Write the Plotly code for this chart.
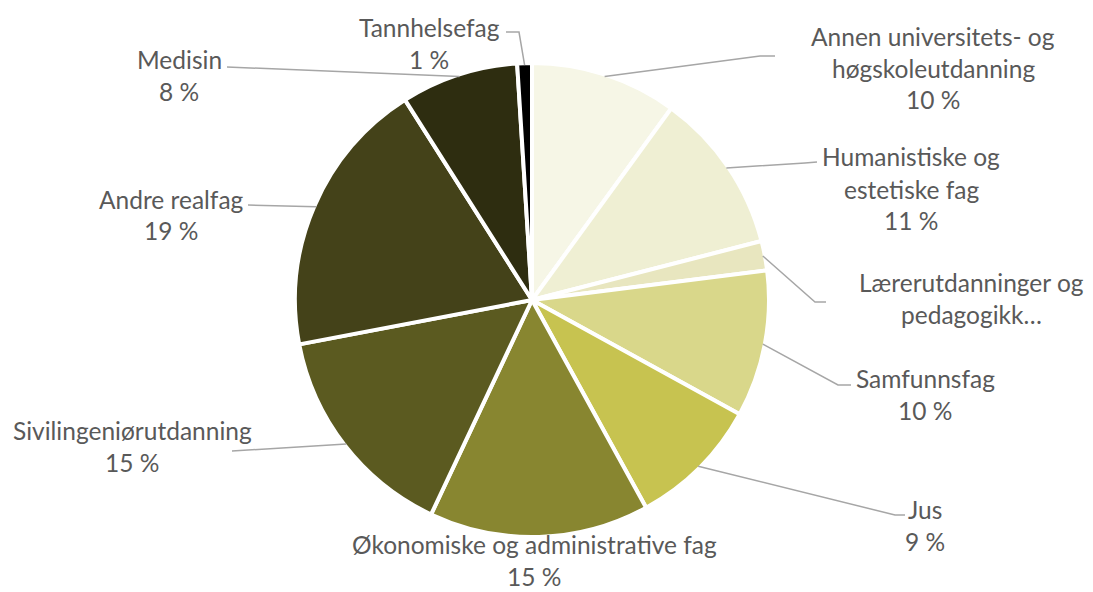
import math
import plotly.graph_objects as go

# Fagområder, clockwise from 12 o'clock
categories = [
    "Annen universitets- og høgskoleutdanning",
    "Humanistiske og estetiske fag",
    "Lærerutdanninger og pedagogikk",
    "Samfunnsfag",
    "Jus",
    "Økonomiske og administrative fag",
    "Sivilingeniørutdanning",
    "Andre realfag",
    "Medisin",
    "Tannhelsefag",
]
values = [10, 11, 2, 10, 9, 15, 15, 19, 8, 1]

# Wrapped label text for each slice (percent line appended where shown)
label_lines = [
    ["Annen universitets- og", "høgskoleutdanning"],
    ["Humanistiske og", "estetiske fag"],
    ["Lærerutdanninger og", "pedagogikk…"],
    ["Samfunnsfag"],
    ["Jus"],
    ["Økonomiske og administrative fag"],
    ["Sivilingeniørutdanning"],
    ["Andre realfag"],
    ["Medisin"],
    ["Tannhelsefag"],
]
show_percent = [True, True, False, True, True, True, True, True, True, True]

colors = ["#F6F6E6", "#EFEFD3", "#E8E6BF", "#D9D78A", "#C7C350",
          "#888630", "#5B5A20", "#444219", "#2E2D10", "#000000"]

W, H = 1093, 592
CX, CY, R = 532, 300, 235  # pie centre and visible radius in pixels
EDGE = 4                   # white separator width

# Label placement: (centre x, first line y) in pixels
label_pos = [
    (933, 36), (911, 157), (971, 282), (925, 378), (925, 509),
    (534, 544), (132, 430), (171, 199), (179, 60), (429, 27),
]
# Leader line bend points after leaving the slice edge (None = no leader)
leader_pts = [
    [(760, 56), (775, 56)],
    [(805, 163), (817, 162)],
    [(815, 302), (826, 302)],
    [(838, 385), (851, 385)],
    [(895, 515), (905, 515)],
    None,
    [(232, 451)],
    [(248, 205)],
    [(227, 67)],
    [(519, 32), (506, 32)],
]
LINE_GAP = 32


def px(x):
    return x / W


def py(y):
    return 1 - y / H


RO = R + EDGE / 2  # outer stroke eats half the separator width
fig = go.Figure(go.Pie(
    labels=categories,
    values=values,
    sort=False,
    direction="clockwise",
    rotation=0,
    marker=dict(colors=colors, line=dict(color="white", width=EDGE)),
    textinfo="none",
    hovertemplate="%{label}: %{value} %<extra></extra>",
    domain=dict(x=[px(CX - RO), px(CX + RO)], y=[py(CY + RO), py(CY - RO)]),
    showlegend=False,
))

total = sum(values)
cum = 0.0
shapes = []
annotations = []
for i, v in enumerate(values):
    mid = (cum + v / 2) / total * 2 * math.pi
    cum += v
    lines = list(label_lines[i])
    if show_percent[i]:
        lines.append(f"{v} %")
    lx, ly = label_pos[i]
    for k, t in enumerate(lines):
        annotations.append(dict(
            x=px(lx), y=py(ly + k * LINE_GAP), xref="paper", yref="paper",
            text=t, showarrow=False, xanchor="center", yanchor="middle",
            borderpad=0,
            font=dict(family="Lato", size=24.5, color="#595959"),
        ))
    if leader_pts[i]:
        pts = [(CX + R * math.sin(mid), CY - R * math.cos(mid))] + leader_pts[i]
        path = "M " + " L ".join(f"{px(x)},{py(y)}" for x, y in pts)
        shapes.append(dict(type="path", path=path, xref="paper", yref="paper",
                           line=dict(color="#A6A6A6", width=1.5)))

fig.update_layout(
    width=W, height=H,
    margin=dict(l=0, r=0, t=0, b=0),
    paper_bgcolor="white", plot_bgcolor="white",
    shapes=shapes, annotations=annotations,
)

fig.write_html("out.html")
